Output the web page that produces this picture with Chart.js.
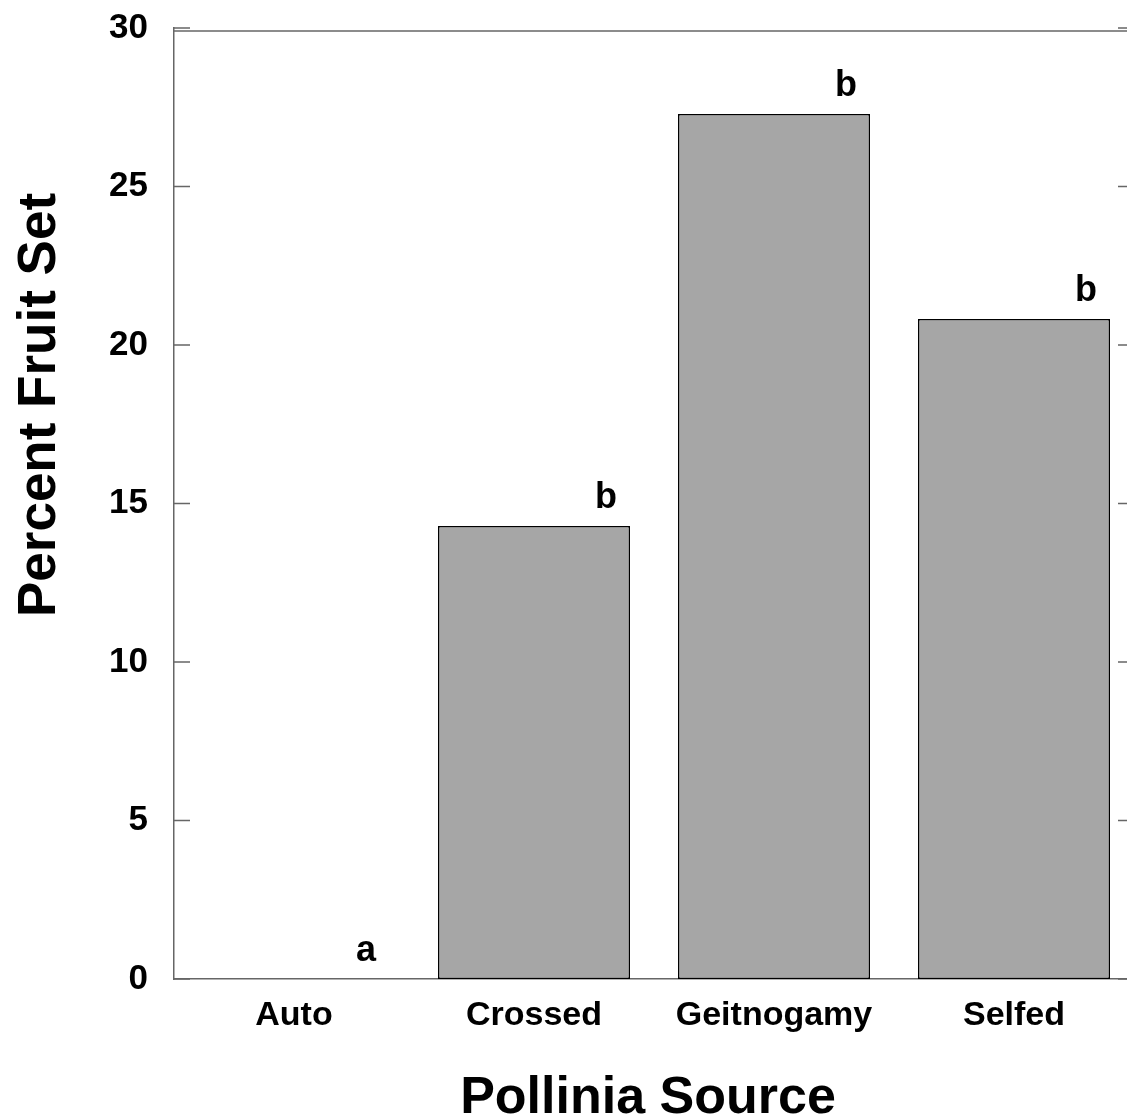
<!DOCTYPE html>
<html>
<head>
<meta charset="utf-8">
<title>Percent Fruit Set by Pollinia Source</title>
<script src="https://cdn.jsdelivr.net/npm/chart.js@4.4.1/dist/chart.umd.min.js"></script>
<style>
    html, body {
        margin: 0;
        padding: 0;
        background: #FFFFFF;
        overflow: hidden;
    }
    canvas {
        display: block;
    }
</style>
</head>
<body>
<canvas id="fruitChart" width="1134" height="1120"></canvas>
<script>
// data
const sources = ["Auto", "Crossed", "Geitnogamy", "Selfed"];
const fruitSet = [0, 14.29, 27.29, 20.82];
const groupLetters = ["a", "b", "b", "b"];
const yTicks = [0, 5, 10, 15, 20, 25, 30];

const FONT = "'Liberation Sans', Arial, Helvetica, sans-serif";
const AXIS_GREY = "#666666";

// inward tick marks on both sides, top frame line, group letters, axis titles
const decorations = {
    id: "decorations",
    afterDatasetsDraw(chart) {
        const ctx = chart.ctx;
        const area = chart.chartArea;
        const x = chart.scales.x;
        const y = chart.scales.y;

        ctx.save();
        ctx.strokeStyle = AXIS_GREY;
        ctx.lineWidth = 1.5;

        yTicks.forEach(v => {
            const py = y.getPixelForValue(v);
            ctx.beginPath();
            ctx.moveTo(area.left, py);
            ctx.lineTo(area.left + 16, py);
            ctx.moveTo(area.right - 16, py);
            ctx.lineTo(area.right, py);
            ctx.stroke();
        });

        ctx.beginPath();
        ctx.moveTo(area.left, area.top + 3);
        ctx.lineTo(area.right, area.top + 3);
        ctx.stroke();

        // significance letters above each bar
        const step = x.getPixelForValue(1) - x.getPixelForValue(0);
        ctx.fillStyle = "#000000";
        ctx.font = "bold 36px " + FONT;
        ctx.textAlign = "center";
        ctx.textBaseline = "alphabetic";
        groupLetters.forEach((letter, i) => {
            const px = x.getPixelForValue(i) + step * 0.3;
            const py = y.getPixelForValue(fruitSet[i]) - 18;
            ctx.fillText(letter, px, py);
        });

        // axis titles
        ctx.font = "bold 52px " + FONT;
        ctx.fillText("Pollinia Source", 648, 1113);

        ctx.font = "bold 53px " + FONT;
        ctx.translate(55, 405);
        ctx.rotate(-Math.PI / 2);
        ctx.fillText("Percent Fruit Set", 0, 0);

        ctx.restore();
    }
};

const fruitChart = new Chart(
    document.getElementById("fruitChart"),
    {
        type: "bar",

        data: {
            labels: sources,
            datasets: [{
                data: fruitSet,
                backgroundColor: "#A6A6A6",
                borderColor: "#000000",
                borderWidth: 1.5,
                borderSkipped: false,
                categoryPercentage: 1.0,
                barPercentage: 0.8
            }]
        },

        options: {
            responsive: false,
            animation: false,
            layout: {
                padding: { top: 28, right: 0, bottom: 0, left: 0 }
            },
            plugins: {
                legend: { display: false },
                tooltip: { enabled: false }
            },
            scales: {
                x: {
                    offset: true,
                    grid: { display: false },
                    border: { color: AXIS_GREY, width: 1.5 },
                    ticks: {
                        color: "#000000",
                        padding: 8,
                        font: { family: FONT, size: 34, weight: "bold" }
                    },
                    afterFit(scale) {
                        scale.height = 141;
                        scale.paddingLeft = 0;
                        scale.paddingRight = 0;
                    }
                },
                y: {
                    min: 0,
                    max: 30,
                    grid: { display: false },
                    border: { color: AXIS_GREY, width: 1.5 },
                    ticks: {
                        stepSize: 5,
                        color: "#000000",
                        padding: 18,
                        font: { family: FONT, size: 35, weight: "bold" }
                    },
                    afterFit(scale) {
                        scale.width = 174;
                        scale.paddingTop = 0;
                        scale.paddingBottom = 0;
                    }
                }
            }
        },

        plugins: [decorations]
    }
);
</script>
</body>
</html>
